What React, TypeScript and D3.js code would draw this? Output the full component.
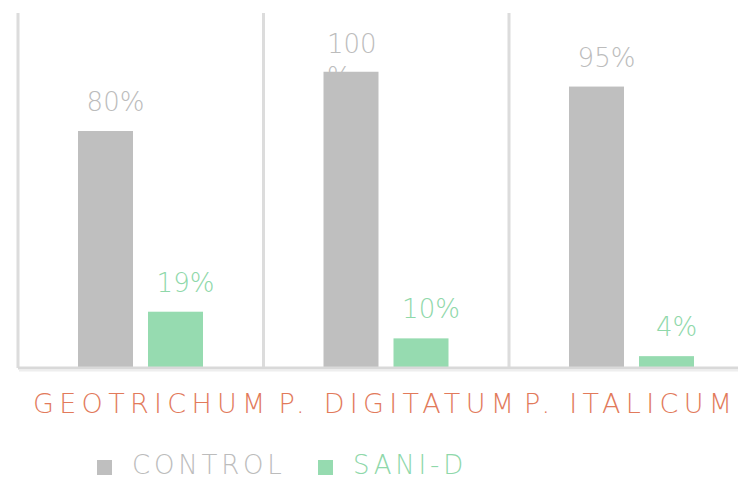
import React from "react";
import * as d3 from "d3";

const categories = ["GEOTRICHUM", "P. DIGITATUM", "P. ITALICUM"];
const seriesNames = ["CONTROL", "SANI-D"];
const controlValues = [80, 100, 95];
const saniValues = [19, 10, 4];
const seriesColors = ["#bfbfbf", "#96dbb0"];
const labelColors = ["#bcbcbc", "#8fd8aa"];

const W = 738;
const H = 479;

export default function App() {
  const x0 = d3.scaleBand<string>().domain(categories).range([18, 754.5]).padding(0);
  const x1 = d3.scaleBand<string>().domain(seriesNames).range([60, 185]).paddingInner(0.2143).paddingOuter(0);
  const y = d3.scaleLinear().domain([0, 120]).range([368, 12.5]);
  const series = [controlValues, saniValues];
  const labelFont = "'DejaVu Sans', sans-serif";

  const labels: React.ReactNode[] = [];
  const bars: React.ReactNode[] = [];
  categories.forEach((cat, ci) => {
    seriesNames.forEach((s, si) => {
      const v = series[si][ci];
      const bx = (x0(cat) as number) + (x1(s) as number);
      const bw = x1.bandwidth();
      const cx = bx + bw / 2 + 10;
      const top = y(v);
      bars.push(
        <rect key={`b${ci}${si}`} x={bx} y={top} width={bw} height={y(0) - top} fill={seriesColors[si]} />
      );
      const txt = `${v}%`;
      if (txt.length > 3) {
        const lines = [String(v), "%"];
        labels.push(
          <text key={`l${ci}${si}`} x={cx - 34} y={top - 19} fontSize={26} fontWeight={200}
            fontFamily={labelFont} fill={labelColors[si]} textAnchor="start">
            {lines.map((ln, i) => (
              <tspan key={i} x={cx - 34} dy={i === 0 ? 0 : 33}>{ln}</tspan>
            ))}
          </text>
        );
      } else {
        labels.push(
          <text key={`l${ci}${si}`} x={cx} y={top - 20} fontSize={26} fontWeight={200}
            fontFamily={labelFont} fill={labelColors[si]} textAnchor="middle">{txt}</text>
        );
      }
    });
  });

  const grid = categories.map((c) => x0(c) as number);

  return (
    <svg width={W} height={H} style={{ position: "absolute", left: 0, top: 0 }}>
      <rect width={W} height={H} fill="#ffffff" />
      {grid.map((gx, i) => (
        <line key={i} x1={gx} x2={gx} y1={13} y2={368} stroke="#dcdcdc" strokeWidth={3} />
      ))}
      {labels}
      {bars}
      <line x1={18} x2={W} y1={368} y2={368} stroke="#d9d9d9" strokeWidth={3} />
      <line x1={19} x2={W} y1={370.5} y2={370.5} stroke="#eeeeee" strokeWidth={2} />
      {categories.map((c) => (
        <text key={c} x={(x0(c) as number) + 15} y={413}
          fontSize={27} fontWeight={200} fontFamily={labelFont} letterSpacing={5.3}
          fill="#e27a5b" textAnchor="start">{c}</text>
      ))}
      {seriesNames.map((s, i) => {
        const lx = i === 0 ? 97 : 318;
        return (
          <g key={s}>
            <rect x={lx} y={460} width={15} height={15} fill={seriesColors[i]} />
            <text x={lx + 35} y={474} fontSize={26} fontWeight={200} fontFamily={labelFont}
              letterSpacing={3.8} fill={labelColors[i]}>{s}</text>
          </g>
        );
      })}
    </svg>
  );
}
